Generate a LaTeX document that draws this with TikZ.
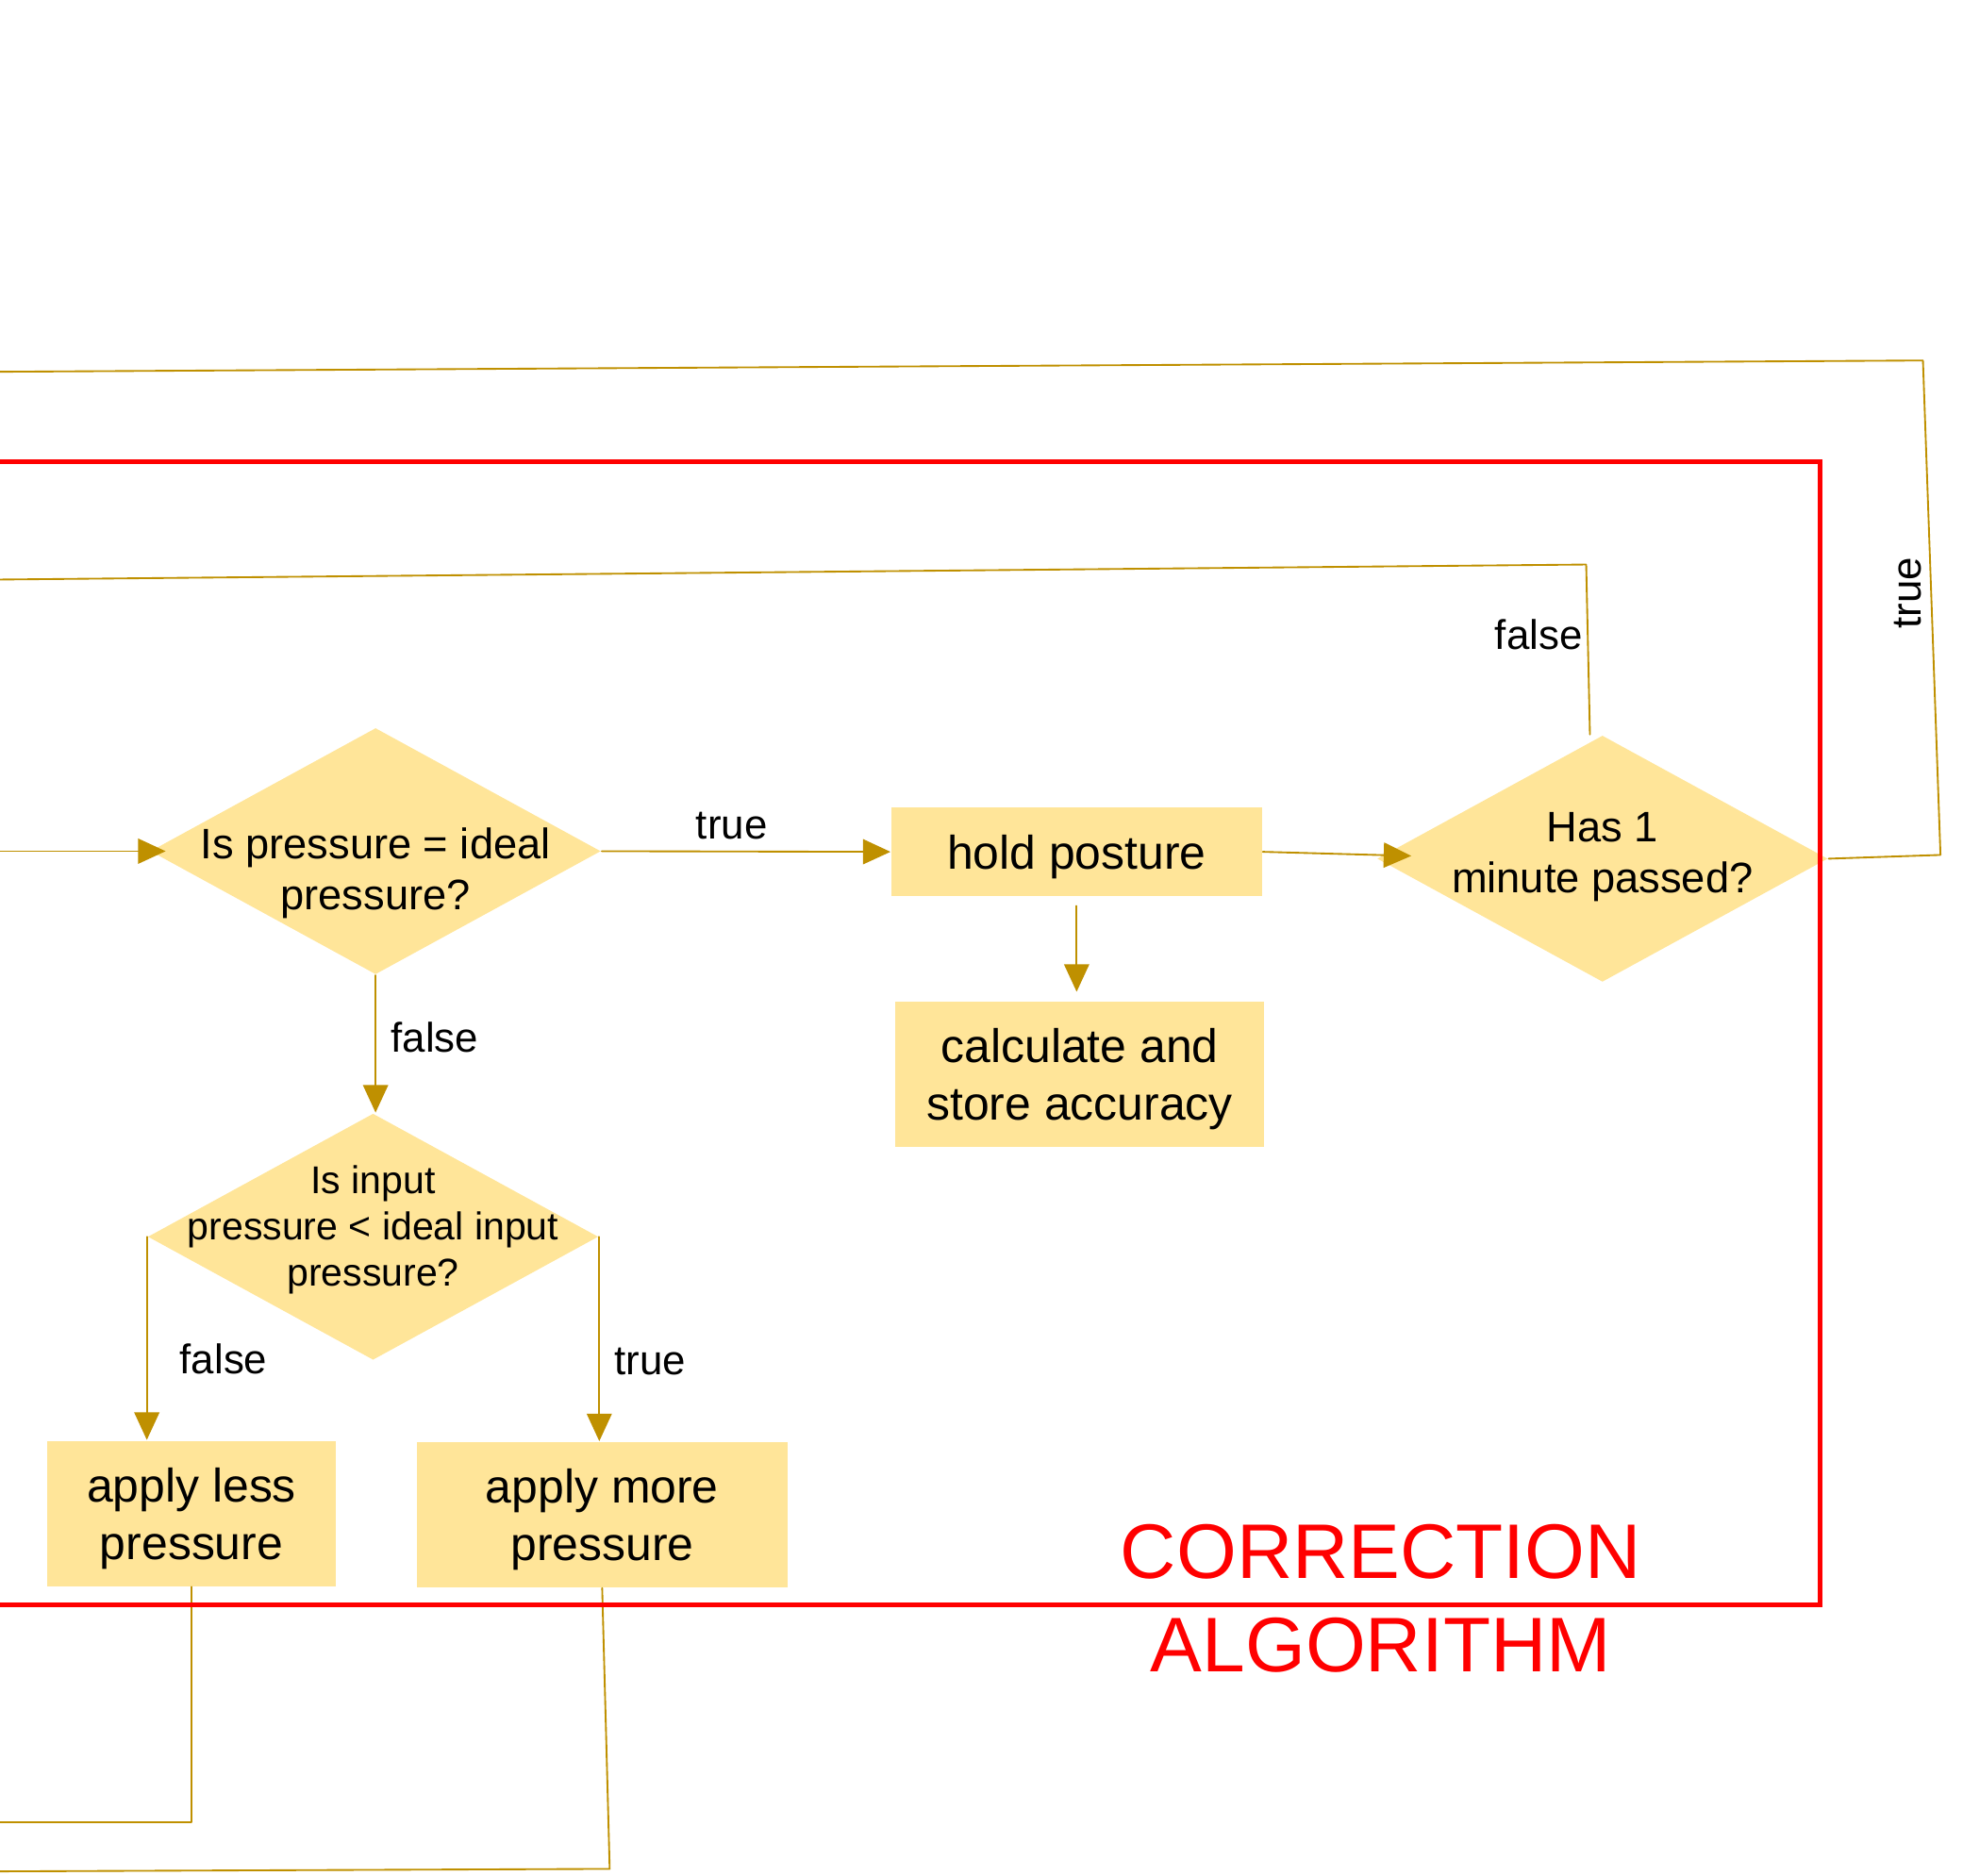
\documentclass[tikz,border=0pt]{standalone}
\usepackage{fontspec}
\setmainfont{Liberation Sans}
\usepackage{tikz}
\usetikzlibrary{arrows.meta, shapes}
\usetikzlibrary{calc}
\usetikzlibrary{positioning}

\definecolor{boxfill}{HTML}{FFE599}
\definecolor{flowline}{HTML}{BF9000}

\begin{document}
\begin{tikzpicture}[line cap=round,line join=round,>={Triangle[length=2.2mm,width=2mm]},x=0.1mm,y=-0.1mm]
  \tikzset{
  % yellow boxes
  box/.style={rectangle, fill=boxfill, inner sep=0pt, align=center, text depth=0pt,
    font=\fontsize{10.7}{13.1}\selectfont},
  % decisions, text is put in as a centred label
  cond/.style={diamond, fill=boxfill, inner sep=0pt,
    minimum width=3.6cm, minimum height=1.97cm},
  qtext/.style={align=center, font=\fontsize{9.7}{11.7}\selectfont},
  lbl/.style={font=\fontsize{9.4}{11}\selectfont},
  flow/.style={draw=flowline, line width=0.4pt},
}

\useasboundingbox (0,0) rectangle (1568,1498);

\node[cond, label={[qtext, yshift=-1.75mm]center:{Is pressure = ideal\\pressure?}}] (d1) at (300,680) {};
\node[cond, label={[qtext, yshift=0.15mm]center:{Has 1\\minute passed?}}] (d2) at (1280,686) {};
\node[cond, label={[qtext, yshift=0.55mm, font=\fontsize{8.8}{10.5}\selectfont]center:{Is input\\pressure < ideal input\\pressure?}}] (d3) at (298,988) {};

\node[box, minimum width=2.96cm, minimum height=0.71cm] (hold) at (860,680.5) {hold posture};
\node[box, minimum width=2.95cm, minimum height=1.16cm] (calc) at (862.5,858) {calculate and\\store accuracy};
\node[box, minimum width=2.30cm, minimum height=1.16cm] (less) at (153,1209) {apply less\\pressure};
\node[box, minimum width=2.96cm, minimum height=1.16cm] (more) at (481,1210) {apply more\\pressure};

% loose ends, the loops run off the left side
\coordinate (entry) at (0,680);
\coordinate (fT) at (1267,451);
\coordinate (fL) at (0,463);
\coordinate (tB) at (1550,683);
\coordinate (tT) at (1536,288);
\coordinate (tL) at (0,297);
\coordinate (lessB) at (153,1456);
\coordinate (lessL) at (0,1456);
\coordinate (moreB) at (487,1493);
\coordinate (moreL) at (0,1495);

\draw[flow,->,shorten >=-1.3mm] (entry) -- (d1.west);
\draw[flow,->] (d1.east) -- node[lbl, pos=0.45, above=-0.3mm] {true} (hold.west);
\draw[flow,->] (d1.south) -- node[lbl, pos=0.45, right] {false} (d1.south |- d3.north);
\draw[flow,->,shorten <=0.7mm,shorten >=0.7mm] (hold.south) -- (hold.south |- calc.north);
\draw[flow,->,shorten >=-2.8mm] (hold.east) -- ([yshift=0.3mm]d2.west);
\draw[flow,->] (d3.west) -- node[lbl, pos=0.6, right=1.4mm] {false} (d3.west |- less.north);
\draw[flow,->] (d3.east) -- node[lbl, pos=0.61, right] {true} (d3.east |- more.north);

\draw[flow] ([xshift=-1mm]d2.north) -- node[lbl, pos=0.59, left, inner sep=1pt] {false} (fT) -- (fL);
\draw[flow] (d2.east) -- (tB) -- node[lbl, pos=0.53, rotate=90, anchor=south, inner sep=2pt] {true} (tT) -- (tL);
\draw[flow] (less.south) -- (lessB) -- (lessL);
\draw[flow] (more.south) -- (moreB) -- (moreL);

% the red frame goes over everything
\draw[red, line width=0.4mm, line join=miter] (-20,369) -- (1454,369) -- (1454,1282) -- (-20,1282);
\node[text=red, align=center, font=\fontsize{17.6}{21.3}\selectfont] (title) at (1103,1277) {CORRECTION\\ALGORITHM};
\end{tikzpicture}
\end{document}
